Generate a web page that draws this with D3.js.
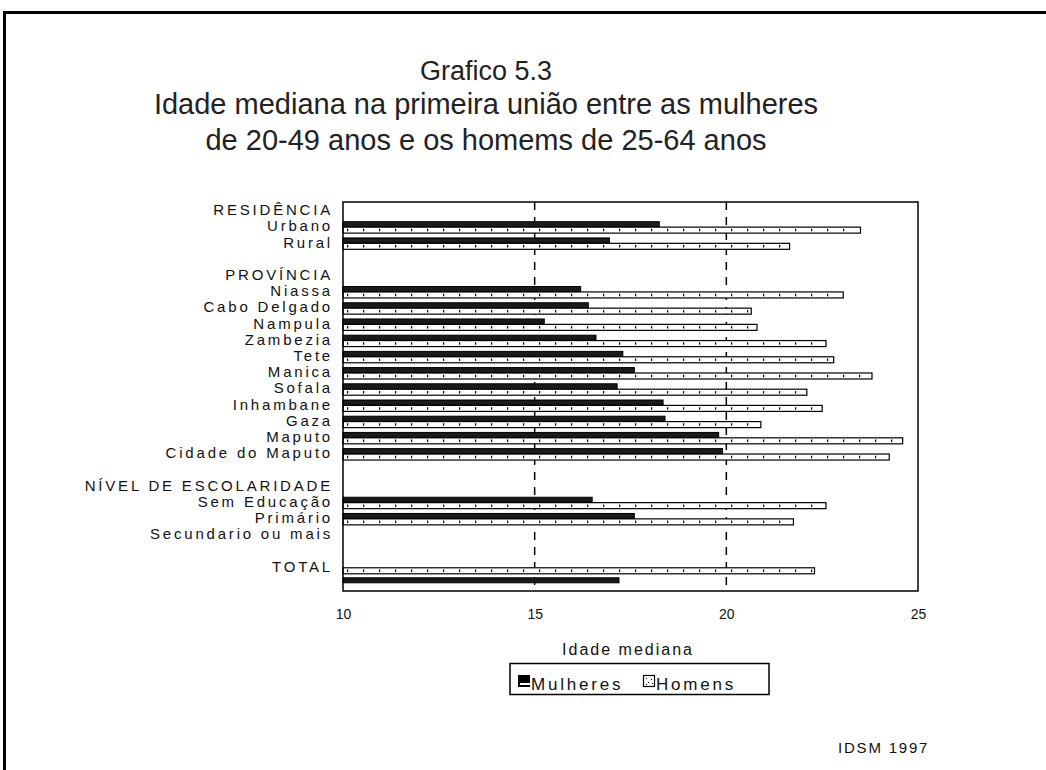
<!DOCTYPE html>
<html>
<head>
<meta charset="utf-8">
<script src="https://cdn.jsdelivr.net/npm/d3@7"></script>
<style>
  html, body { margin: 0; padding: 0; background: #fff; }
  svg { display: block; }
  text { font-family: "Liberation Sans", Arial, sans-serif; fill: #111; }
</style>
</head>
<body>
<svg id="chart" width="1046" height="770"></svg>
<script>
// ---- data ----
const titleLines = ["Grafico 5.3",
  "Idade mediana na primeira união entre as mulheres",
  "de 20-49 anos e os homems de 25-64 anos"];
const rowLabels = ["RESIDÊNCIA", "Urbano", "Rural", "",
  "PROVÍNCIA", "Niassa", "Cabo Delgado", "Nampula", "Zambezia", "Tete", "Manica",
  "Sofala", "Inhambane", "Gaza", "Maputo", "Cidade do Maputo", "",
  "NÍVEL DE ESCOLARIDADE", "Sem Educação", "Primário", "Secundario ou mais", "",
  "TOTAL", ""];
const categories = ["Urbano", "Rural", "Niassa", "Cabo Delgado", "Nampula", "Zambezia",
  "Tete", "Manica", "Sofala", "Inhambane", "Gaza", "Maputo", "Cidade do Maputo",
  "Sem Educação", "Primário", "Secundario ou mais", "TOTAL"];
const mulheres = [18.25, 16.95, 16.2, 16.4, 15.25, 16.6, 17.3, 17.6, 17.15, 18.35, 18.4, 19.8, 19.9,
  16.5, 17.6, null, 17.2];
const homens = [23.5, 21.65, 23.05, 20.65, 20.8, 22.6, 22.8, 23.8, 22.1, 22.5, 20.9, 24.6, 24.25,
  22.6, 21.75, null, 22.3];
const xTicks = [10, 15, 20, 25];
const gridValues = [15, 20];
const seriesNames = ["Mulheres", "Homens"];
const xTitle = "Idade mediana";
const sourceNote = "IDSM 1997";

// ---- layout ----
const svg = d3.select("#chart");
const plot = {left: 343, right: 918, top: 202, bottom: 591};
const x = d3.scaleLinear().domain([10, 25]).range([plot.left, plot.right]);
const y = d3.scaleBand().domain(d3.range(rowLabels.length)).range([plot.top, plot.bottom]).padding(0);
const bw = y.bandwidth();

// outer frame (top and left edges)
svg.append("line").attr("x1", 3).attr("x2", 1046).attr("y1", 12.5).attr("y2", 12.5)
  .attr("stroke", "#000").attr("stroke-width", 3);
svg.append("line").attr("x1", 4.5).attr("x2", 4.5).attr("y1", 11).attr("y2", 770)
  .attr("stroke", "#000").attr("stroke-width", 3);

// title
const titleY = [80, 114, 150];
svg.append("g").selectAll("text").data(titleLines).join("text")
  .attr("x", 486).attr("y", (d, i) => titleY[i])
  .attr("text-anchor", "middle")
  .style("font-size", (d, i) => i === 0 ? "27px" : "29px").style("fill", "#222")
  .text(d => d);

// grid dashed lines
svg.append("g").selectAll("line").data(gridValues).join("line")
  .attr("x1", d => x(d)).attr("x2", d => x(d))
  .attr("y1", plot.top).attr("y2", plot.bottom)
  .attr("stroke", "#000").attr("stroke-width", 1.5)
  .attr("stroke-dasharray", "8,7");

// bars
const rows = categories.map((c, i) => ({cat: c, m: mulheres[i], h: homens[i], row: rowLabels.indexOf(c)}));
const gBars = svg.append("g");
rows.forEach(r => {
  if (r.m == null && r.h == null) return;
  const c = y(r.row) + bw / 2;
  let mY, hY;
  if (r.cat === "TOTAL") {
    const b = y(r.row) + bw;
    hY = b - 7; mY = b + 3;
  } else {
    mY = c - 4.6; hY = c + 0.8;
  }
  // Homens bar
  gBars.append("rect")
    .attr("x", x(10)).attr("y", hY)
    .attr("width", x(r.h) - x(10)).attr("height", 6)
    .attr("fill", "#fff").attr("stroke", "#000").attr("stroke-width", 1.2);
  gBars.append("line")
    .attr("x1", x(10) + 4).attr("x2", x(r.h) - 2)
    .attr("y1", hY + 3).attr("y2", hY + 3)
    .attr("stroke", "#000").attr("stroke-width", 2.5)
    .attr("stroke-dasharray", "1.2,14.8");
  // Mulheres bar
  gBars.append("rect")
    .attr("x", x(10)).attr("y", mY)
    .attr("width", x(r.m) - x(10)).attr("height", 5)
    .attr("fill", "#1a1a1a").attr("stroke", "#000").attr("stroke-width", 1);
});

// plot frame
svg.append("rect")
  .attr("x", plot.left).attr("y", plot.top)
  .attr("width", plot.right - plot.left).attr("height", plot.bottom - plot.top)
  .attr("fill", "none").attr("stroke", "#000").attr("stroke-width", 1.5);

// row labels
svg.append("g").selectAll("text").data(rowLabels.map((d, i) => ({d, i})).filter(o => o.d))
  .join("text")
  .attr("x", 333).attr("y", o => y(o.i) + bw / 2 + 5)
  .attr("text-anchor", "end")
  .style("font-size", "15px").style("letter-spacing", "2.8px")
  .text(o => o.d);

// x axis tick labels
const axis = d3.axisBottom(x).tickValues(xTicks).tickSize(0).tickPadding(0).tickFormat(d3.format("d"));
const gAxis = svg.append("g").attr("transform", `translate(0, ${plot.bottom + 18})`).call(axis);
gAxis.select(".domain").remove();
gAxis.selectAll("text").style("font-size", "14px").style("font-family", "'Liberation Sans', Arial, sans-serif").attr("fill", "#111");

// x title
svg.append("text").attr("x", 628).attr("y", 655).attr("text-anchor", "middle")
  .style("font-size", "16px").style("letter-spacing", "2px").text(xTitle);

// legend
const lg = svg.append("g");
lg.append("rect").attr("x", 510).attr("y", 663.5).attr("width", 259).attr("height", 31)
  .attr("fill", "#fff").attr("stroke", "#000").attr("stroke-width", 1.5);
// Mulheres icon
lg.append("rect").attr("x", 518).attr("y", 675).attr("width", 12).attr("height", 12).attr("fill", "#000");
lg.append("rect").attr("x", 520).attr("y", 683).attr("width", 10).attr("height", 2).attr("fill", "#fff");
// Homens icon
lg.append("rect").attr("x", 643.5).attr("y", 675.5).attr("width", 11).attr("height", 11)
  .attr("fill", "#fff").attr("stroke", "#000").attr("stroke-width", 1.2);
[[646, 678], [651, 679], [648, 682], [652, 683], [646, 684]].forEach(p =>
  lg.append("rect").attr("x", p[0]).attr("y", p[1]).attr("width", 1).attr("height", 1).attr("fill", "#000"));
lg.append("text").attr("x", 531).attr("y", 690).style("font-size", "17px").style("letter-spacing", "2.8px").text(seriesNames[0]);
lg.append("text").attr("x", 656).attr("y", 690).style("font-size", "17px").style("letter-spacing", "2.8px").text(seriesNames[1]);

// source note
svg.append("text").attr("x", 838).attr("y", 753).style("font-size", "15px").style("letter-spacing", "1.8px").text(sourceNote);
</script>
</body>
</html>
